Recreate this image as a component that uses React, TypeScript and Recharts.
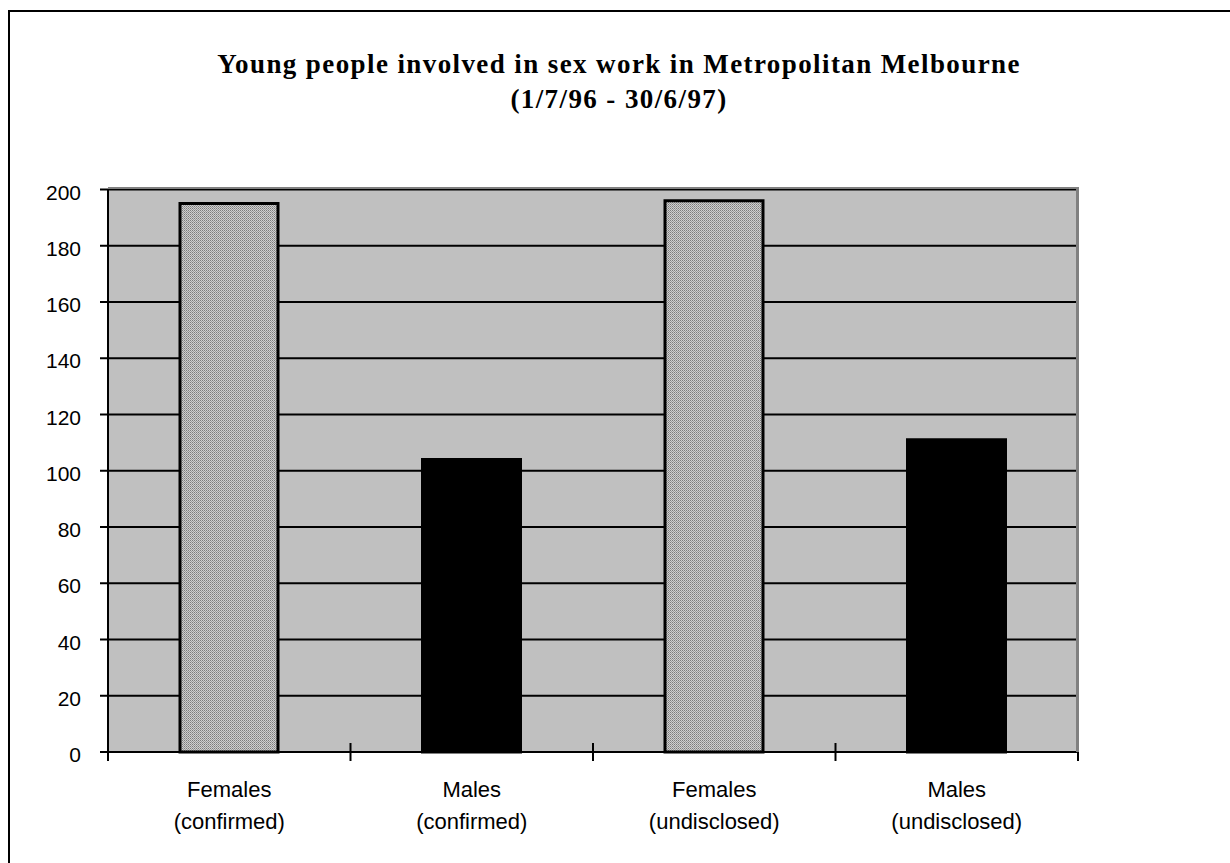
import { Bar, BarChart, CartesianGrid, XAxis, YAxis, Cell } from "recharts"

// values
const groups = ["Females", "Males", "Females", "Males"]
const statuses = ["(confirmed)", "(confirmed)", "(undisclosed)", "(undisclosed)"]
const counts = [195, 104, 196, 111]
const yTicks = [0, 20, 40, 60, 80, 100, 120, 140, 160, 180, 200]

const data = groups.map((g, i) => ({ name: g + " " + statuses[i], group: g, status: statuses[i], count: counts[i] }))

const W = 1230
const H = 863
const M = { top: 189.5, right: 152, bottom: 0, left: 8 }
const Y_AXIS_W = 100
const X_AXIS_H = H - 752
const halfBand = (W - M.left - M.right - Y_AXIS_W) / data.length / 2
const SANS = "Liberation Sans, Arial, sans-serif"

const XTick = (props: any) => {
  const { x, y, index } = props
  const row = data[index]
  return (
    <g>
      <line x1={x - halfBand} x2={x - halfBand} y1={y - 9} y2={y + 9} stroke="#000" strokeWidth={2} />
      {index === data.length - 1 && (
        <line x1={x + halfBand} x2={x + halfBand} y1={y - 9} y2={y + 9} stroke="#000" strokeWidth={2} />
      )}
      <text x={x} y={y + 45} textAnchor="middle" fontFamily={SANS} fontSize={22} fill="#000">
        {row ? row.group : ""}
      </text>
      <text x={x} y={y + 77} textAnchor="middle" fontFamily={SANS} fontSize={22} fill="#000">
        {row ? row.status : ""}
      </text>
    </g>
  )
}

const YTick = (props: any) => {
  const { x, y, payload } = props
  return (
    <text x={x} y={y + 10} textAnchor="end" fontFamily={SANS} fontSize={21} fill="#000">
      {payload.value}
    </text>
  )
}

const App = () => {
  return (
    <div style={{ position: "absolute", left: 0, top: 0, width: W, height: H, background: "#fff", overflow: "hidden" }}>
      <div
        style={{
          position: "absolute", left: 8, top: 10, width: W, height: H,
          borderLeft: "2px solid #000", borderTop: "2px solid #000", boxSizing: "border-box",
        }}
      />
      <div
        style={{
          position: "absolute", left: 0, top: 47, width: 1238, textAlign: "center",
          fontFamily: "'Palatino Linotype', Palatino, 'Liberation Serif', 'DejaVu Serif', serif",
          fontWeight: "bold", fontSize: 27, lineHeight: "35px", letterSpacing: 1.4, color: "#000",
        }}
      >
        Young people involved in sex work in Metropolitan Melbourne
        <br />
        (1/7/96 - 30/6/97)
      </div>
      <div style={{ position: "absolute", left: 0, top: 0 }}>
        <BarChart width={W} height={H} data={data} margin={M} barSize={98}>
          <defs>
            <pattern id="dots" width="2" height="2" patternUnits="userSpaceOnUse">
              <rect width="2" height="2" fill="#cfcfcf" />
              <rect x="0" y="0" width="1" height="1" fill="#7c7c7c" />
              <rect x="1" y="1" width="1" height="1" fill="#9a9a9a" />
            </pattern>
          </defs>
          <CartesianGrid
            vertical={false}
            stroke="#000"
            strokeWidth={2}
            fill="#c0c0c0"
            fillOpacity={1}
          />
          <XAxis
            dataKey="name"
            height={X_AXIS_H}
            axisLine={{ stroke: "#000", strokeWidth: 2 }}
            tickLine={false}
            tickSize={0}
            tickMargin={0}
            tick={<XTick />}
            interval={0}
          />
          <YAxis
            width={Y_AXIS_W}
            domain={[0, 200]}
            ticks={yTicks}
            interval={0}
            axisLine={{ stroke: "#000", strokeWidth: 2 }}
            tickLine={{ stroke: "#000", strokeWidth: 2 }}
            tickSize={8}
            tickMargin={19}
            tick={<YTick />}
          />
          <Bar dataKey="count" stroke="#000" strokeWidth={3} isAnimationActive={false}>
            {data.map((d, i) => (
              <Cell key={i} fill={d.group === "Females" ? "url(#dots)" : "#000"} />
            ))}
          </Bar>
        </BarChart>
      </div>
      <div style={{ position: "absolute", left: 108, top: 187, width: 970, height: 2, background: "#808080" }} />
      <div style={{ position: "absolute", left: 1076, top: 187, width: 2.5, height: 565, background: "#808080" }} />
    </div>
  )
}

export default App
